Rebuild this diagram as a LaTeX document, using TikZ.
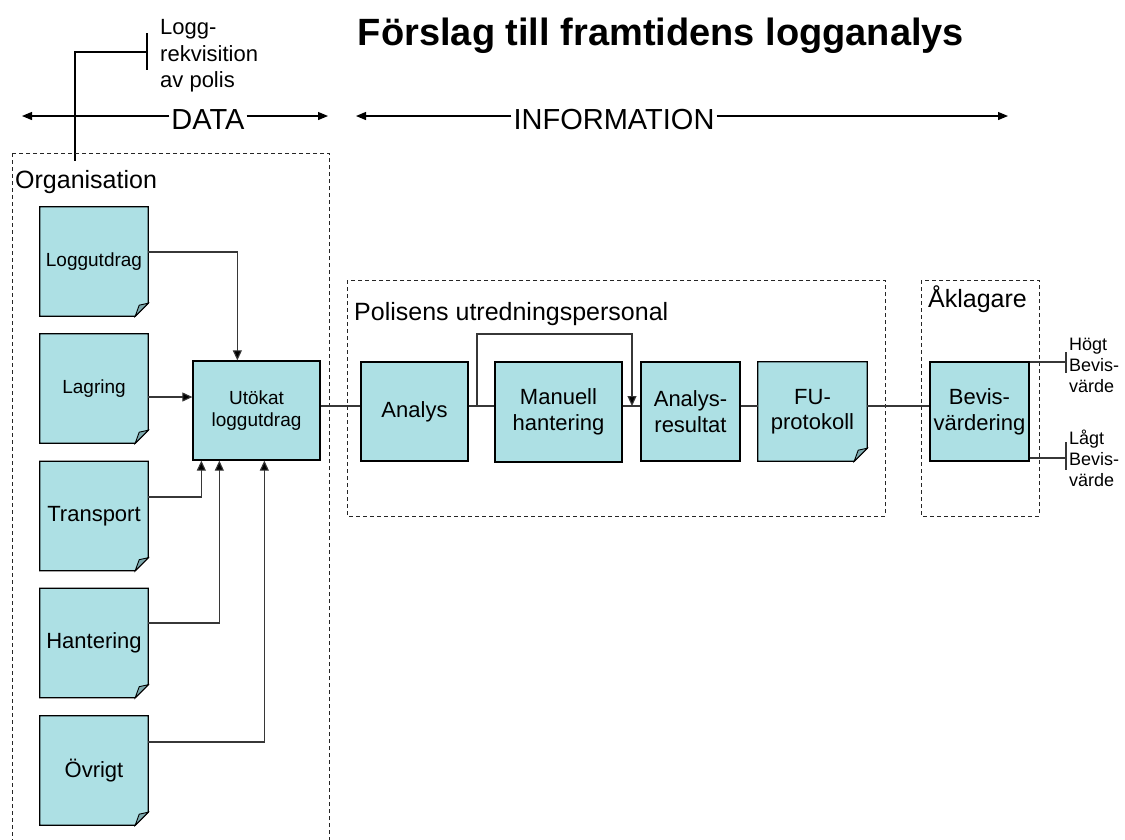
\documentclass[tikz,border=0pt]{standalone}
\usepackage{fontspec}
\setmainfont{Liberation Sans}
\usetikzlibrary{arrows.meta,backgrounds,calc}
\definecolor{boxfill}{RGB}{173,224,228}
\definecolor{foldfill}{RGB}{125,170,175}
\definecolor{connc}{RGB}{55,55,55}
\tikzset{
  box/.style={draw=black, line width=1.3pt, fill=boxfill, inner sep=0pt, align=center},
  docnode/.style={inner sep=0pt, align=center},
  conn/.style={draw=connc, line width=1.1pt},
  tipend/.style={-{Triangle[length=10pt,width=9pt,fill=black]}},
  bigarrow/.style={draw=black, line width=1.2pt, -{Triangle[length=10pt,width=8pt]}},
  grp/.style={draw=black!85, line width=1pt, dash pattern=on 4pt off 3pt},
  fsa/.style={font=\fontsize{22}{26}\selectfont},
  fsb/.style={font=\fontsize{19}{22}\selectfont},
  fsc/.style={font=\fontsize{18}{21}\selectfont},
  fsd/.style={font=\fontsize{25}{30}\selectfont},
  fse/.style={font=\fontsize{29}{34}\selectfont},
}
\newcommand\docoutline[1]{%
  \filldraw[draw=black,line width=1.3pt,fill=boxfill,line join=miter]
    (#1.north west) -- (#1.north east) -- ($(#1.south east)+(0,-13)$)
    -- ($(#1.south east)+(-13,0)$) -- (#1.south west) -- cycle;
  \filldraw[draw=black,line width=0.9pt,fill=foldfill]
    ($(#1.south east)+(-13,0)$) -- ($(#1.south east)+(0,-13)$)
    -- ($(#1.south east)+(-9,-11)$) -- cycle;}
\begin{document}
\begin{tikzpicture}[x=1pt,y=-1pt]
\useasboundingbox (0,0) rectangle (1125,839);
\clip (0,0) rectangle (1125,839);

% title
\node[anchor=base, inner sep=0pt, font=\fontsize{38}{44}\selectfont\bfseries] (title) at (661,45) {Förslag till framtidens logganalys};

% DATA / INFORMATION
\node[fse, anchor=base, inner sep=2pt] (data) at (208,129) {DATA};
\node[fse, anchor=base, inner sep=2pt] (info) at (614,129) {INFORMATION};
\coordinate (dl) at (22,116);
\coordinate (dr) at (328,116);
\coordinate (il) at (356,116);
\coordinate (ir) at (1008,116);
\draw[bigarrow] (data.west |- dl) -- (dl);
\draw[bigarrow] (data.east |- dr) -- (dr);
\draw[bigarrow] (info.west |- il) -- (il);
\draw[bigarrow] (info.east |- ir) -- (ir);

% Logg-rekvisition
\node[anchor=north west, align=left, inner sep=0pt, font=\fontsize{22}{26.5}\selectfont] (rekv) at (160,19.5) {Logg-\\rekvisition\\av polis};
\coordinate (tk1) at (147,33);
\coordinate (tk2) at (147,70);
\coordinate (tkm) at (147,52);
\coordinate (rk) at (75,161);
\draw[black, line width=1.2pt] (tk1) -- (tk2);
\draw[black, line width=1.2pt] (tkm) -| (rk);

% group boxes
\draw[grp] (12,153) rectangle (329,860);
\node[fsd, anchor=base west, inner sep=0pt] (orglbl) at (15,188) {Organisation};
\draw[grp] (347,280) rectangle (885,516);
\node[fsd, anchor=base west, inner sep=0pt] (pollbl) at (354,320) {Polisens utredningspersonal};
\draw[grp] (921,280) rectangle (1039,516);
\node[fsd, anchor=base west, inner sep=0pt] (akllbl) at (928,307) {Åklagare};

% document nodes
\node[docnode, fsb, minimum width=108pt, minimum height=109pt] (log) at (94,261.5) {Loggutdrag};
\node[docnode, fsb, minimum width=108pt, minimum height=109pt] (lag) at (94,388.5) {Lagring};
\node[docnode, fsa, minimum width=108pt, minimum height=109pt] (tra) at (94,516) {Transport};
\node[docnode, fsa, minimum width=108pt, minimum height=109pt] (han) at (94,643) {Hantering};
\node[docnode, fsa, minimum width=108pt, minimum height=109pt] (ovr) at (94,770.5) {Övrigt};
\node[docnode, fsa, minimum width=109pt, minimum height=99pt] (fu) at (812.5,411.5) {FU-\\[-1pt]protokoll};
\begin{pgfonlayer}{background}
  \fill[white] (0,0) rectangle (1125,839);
  \docoutline{log}
  \docoutline{lag}
  \docoutline{tra}
  \docoutline{han}
  \docoutline{ovr}
  \docoutline{fu}
\end{pgfonlayer}

% process boxes
\node[box, fsb, minimum width=127pt, minimum height=99pt] (ut) at (256.5,410.5) {Utökat\\loggutdrag};
\node[box, fsa, minimum width=107pt, minimum height=99pt] (an) at (414.5,411.5) {Analys};
\node[box, fsa, minimum width=127pt, minimum height=100pt] (man) at (558.5,412) {Manuell\\hantering};
\node[box, fsa, minimum width=99pt, minimum height=99pt] (res) at (690.5,411.5) {Analys-\\resultat};
\node[box, fsa, minimum width=99pt, minimum height=99pt] (bev) at (979.5,411.5) {Bevis-\\värdering};

% inputs to Utokat
\draw[conn, tipend] (log.east |- 0,252) -| ($(ut.north west)+(45,0)$);
\draw[conn, tipend] (lag.east |- 0,397) -- (ut.west |- 0,397);
\draw[conn, tipend] (tra.east |- 0,497) -| ($(ut.south west)+(9,0)$);
\draw[conn, tipend] (han.east |- 0,623) -| ($(ut.south west)+(27,0)$);
\draw[conn, tipend] (ovr.east |- 0,742) -| ($(ut.south west)+(72,0)$);

% main chain
\draw[conn] (ut.east |- 0,406) -- (an.west |- 0,406);
\draw[conn] (an.east |- 0,406) -- (man.west |- 0,406);
\coordinate (split) at (477,406);
\coordinate (merge) at (632,406);
\coordinate (looptop) at (632,334);
\draw[conn, tipend] (split) |- (looptop) -- (merge);
\draw[conn] (man.east |- 0,406) -- (res.west |- 0,406);
\draw[conn] (res.east |- 0,406) -- (fu.west |- 0,406);
\draw[conn] (fu.east |- 0,406) -- (bev.west |- 0,406);

% outputs
\coordinate (hi) at (1066,362);
\coordinate (lo) at (1066,458);
\draw[conn] (bev.east |- hi) -- (hi);
\draw[conn] (bev.east |- lo) -- (lo);
\draw[conn] (1066,352) -- (1066,373);
\draw[conn] (1066,442) -- (1066,470);
\node[fsc, anchor=west, align=left, inner sep=0pt] (hogt) at (1069,365) {Högt\\Bevis-\\värde};
\node[fsc, anchor=west, align=left, inner sep=0pt] (lagt) at (1069,458) {Lågt\\Bevis-\\värde};
\end{tikzpicture}
\end{document}
